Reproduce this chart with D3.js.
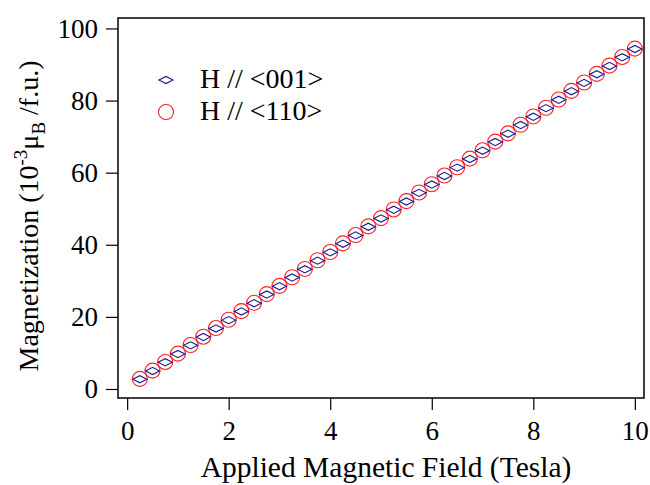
<!DOCTYPE html>
<html>
<head>
<meta charset="utf-8">
<script src="https://cdn.jsdelivr.net/npm/d3@7"></script>
<style>
  body { margin: 0; background: #fff; }
  svg text { font-family: "Liberation Serif", "Times New Roman", serif; fill: #000; }
</style>
</head>
<body>
<div id="grafica"></div>
<script>
// datos
const campo = [0.25, 0.5, 0.75, 1.0, 1.25, 1.5, 1.75, 2.0, 2.25, 2.5,
  2.75, 3.0, 3.25, 3.5, 3.75, 4.0, 4.25, 4.5, 4.75, 5.0,
  5.25, 5.5, 5.75, 6.0, 6.25, 6.5, 6.75, 7.0, 7.25, 7.5,
  7.75, 8.0, 8.25, 8.5, 8.75, 9.0, 9.25, 9.5, 9.75, 10.0]
const mag001 = [2.7, 5.0, 7.4, 9.7, 12.1, 14.4, 16.8, 19.1, 21.5, 23.8,
  26.2, 28.5, 30.9, 33.2, 35.6, 37.9, 40.3, 42.6, 45.0, 47.3,
  49.7, 52.0, 54.4, 56.7, 59.1, 61.4, 63.8, 66.1, 68.5, 70.8,
  73.2, 75.5, 77.9, 80.2, 82.6, 84.9, 87.3, 89.6, 92.0, 94.3]
const mag110 = [2.8, 5.1, 7.5, 9.8, 12.2, 14.5, 16.9, 19.2, 21.6, 23.9,
  26.3, 28.6, 31.0, 33.3, 35.7, 38.0, 40.4, 42.7, 45.1, 47.4,
  49.8, 52.1, 54.5, 56.8, 59.2, 61.5, 63.9, 66.2, 68.6, 70.9,
  73.3, 75.6, 78.0, 80.3, 82.7, 85.0, 87.4, 89.7, 92.1, 94.4]
const ticksX = [0, 2, 4, 6, 8, 10]
const ticksY = [0, 20, 40, 60, 80, 100]

const ancho = 650, alto = 485
const margen = {top: 18, right: 6, bottom: 87, left: 118}
const w = ancho - margen.left - margen.right
const h = alto - margen.top - margen.bottom

const svg = d3.select("#grafica").append("svg")
    .attr("width", ancho)
    .attr("height", alto)

const g = svg.append("g")
    .attr("transform", `translate(${margen.left}, ${margen.top})`)

const x = d3.scaleLinear().domain([-0.18, 10.18]).range([0, w])
const y = d3.scaleLinear().domain([-2.5, 102.9]).range([h, 0])

// ejes
const ejeX = g.append("g")
    .attr("transform", `translate(0, ${h})`)
    .call(d3.axisBottom(x).tickValues(ticksX).tickSize(12).tickSizeOuter(0).tickPadding(11))
const ejeY = g.append("g")
    .call(d3.axisLeft(y).tickValues(ticksY).tickSize(12).tickSizeOuter(0).tickPadding(8))

for (const eje of [ejeX, ejeY]) {
  eje.attr("font-family", null)
  eje.select(".domain").remove()
  eje.selectAll("line").attr("stroke", "#000").attr("stroke-width", 1.2)
  eje.selectAll("text").attr("font-size", 27)
}
ejeX.selectAll("text").attr("dy", "0.71em")

// marco
g.append("rect")
    .attr("width", w).attr("height", h)
    .attr("fill", "none").attr("stroke", "#000").attr("stroke-width", 1.5)

const diamante = d3.symbol().type({
  draw(ctx) { ctx.moveTo(-7, 0); ctx.lineTo(0, -3.6); ctx.lineTo(7, 0); ctx.lineTo(0, 3.6); ctx.closePath() }
})

// series
g.selectAll(".c110").data(campo.map((c, i) => [c, mag110[i]]))
  .join("circle")
    .attr("class", "c110")
    .attr("cx", d => x(d[0])).attr("cy", d => y(d[1]))
    .attr("r", 7.5)
    .attr("fill", "none").attr("stroke", "#ff2020").attr("stroke-width", 1.1)

g.selectAll(".d001").data(campo.map((c, i) => [c, mag001[i]]))
  .join("path")
    .attr("class", "d001")
    .attr("d", diamante)
    .attr("transform", d => `translate(${x(d[0])}, ${y(d[1])})`)
    .attr("fill", "none").attr("stroke", "#1a1a90").attr("stroke-width", 1.1)

// leyenda
svg.append("path")
    .attr("d", diamante)
    .attr("transform", "translate(166, 80)")
    .attr("fill", "none").attr("stroke", "#1a1a90").attr("stroke-width", 1.1)
svg.append("circle")
    .attr("cx", 166).attr("cy", 112).attr("r", 7.5)
    .attr("fill", "none").attr("stroke", "#ff2020").attr("stroke-width", 1.1)
svg.append("text").attr("x", 200).attr("y", 88).attr("font-size", 28).text("H // <001>")
svg.append("text").attr("x", 200).attr("y", 120).attr("font-size", 28).text("H // <110>")

// títulos
svg.append("text")
    .attr("x", 386).attr("y", 477)
    .attr("text-anchor", "middle").attr("font-size", 29.5)
    .text("Applied Magnetic Field (Tesla)")

const tituloY = svg.append("text")
    .attr("transform", "translate(38, 216) rotate(-90)")
    .attr("text-anchor", "middle").attr("font-size", 28)
tituloY.append("tspan").text("Magnetization (10")
tituloY.append("tspan").attr("font-size", 19).attr("dy", -11).text("-3")
tituloY.append("tspan").attr("dy", 11).text("μ")
tituloY.append("tspan").attr("font-size", 19).attr("dy", 7).text("B")
tituloY.append("tspan").attr("dy", -7).text(" /f.u.)")
</script>
</body>
</html>
